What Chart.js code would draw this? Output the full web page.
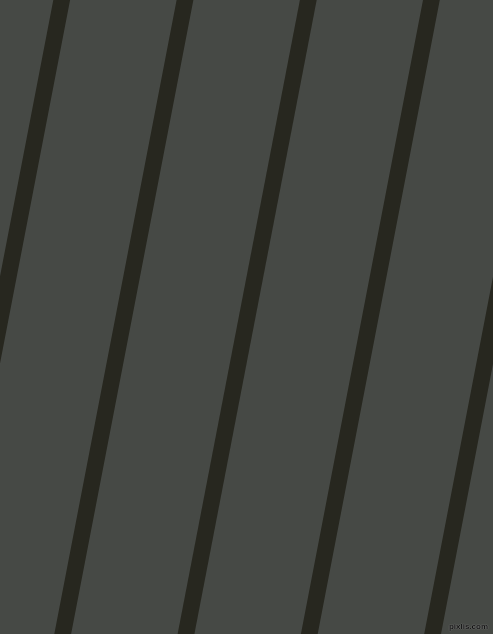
<!DOCTYPE html>
<html lang="en">
<head>
    <meta charset="UTF-8">
    <title>Stripes</title>
    <script src="https://cdn.jsdelivr.net/npm/chart.js"></script>
    <style>
        html, body { margin: 0; padding: 0; background: #464945; overflow: hidden; }
        #wrap { position: relative; width: 493px; height: 634px; }
        #stripeChart { display: block; background: #464945; }
        #mark {
            position: absolute; right: 5px; bottom: 3px;
            font: bold 8px "Liberation Sans", Arial, sans-serif;
            color: #111;
            text-shadow: 0 0 1px #8a8a8a, 0 0 1px #8a8a8a;
        }
    </style>
</head>
<body>
<div id="wrap">
    <canvas id="stripeChart" width="493" height="634"></canvas>
    <div id="mark">pixlis.com</div>
</div>
<script>
    // stripe centre x at the top edge and bottom edge of the picture
    var stripeTopX = [61.7, 185.0, 308.3, 431.4, 554.7];
    var stripeBottomX = [-60.6, 62.7, 186.0, 309.3, 432.6];
    var edgeY = [0, 634];

    var datasets = stripeTopX.map(function(top, i) {
        return {
            data: [{ x: top, y: edgeY[0] }, { x: stripeBottomX[i], y: edgeY[1] }],
            borderColor: '#27271f',
            borderWidth: 16.5,
            borderCapStyle: 'square',
            pointRadius: 0,
            showLine: true,
            fill: false,
            tension: 0
        };
    });

    var ctx = document.getElementById('stripeChart').getContext('2d');
    var chart = new Chart(ctx, {
        type: 'scatter',
        data: { datasets: datasets },
        options: {
            responsive: false,
            animation: false,
            layout: { padding: 0 },
            plugins: { legend: { display: false }, tooltip: { enabled: false } },
            scales: {
                x: { type: 'linear', min: 0, max: 493, display: false },
                y: { type: 'linear', min: 0, max: 634, reverse: true, display: false }
            }
        }
    });
</script>
</body>
</html>
